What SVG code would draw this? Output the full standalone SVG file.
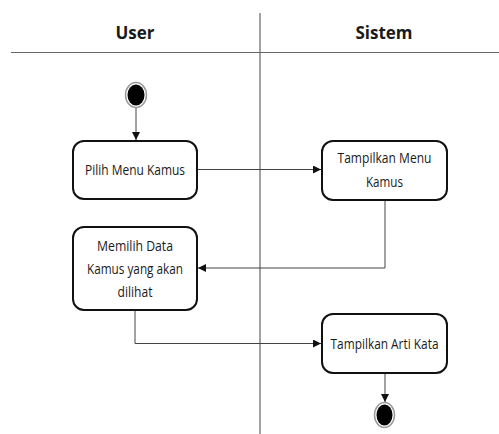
<svg xmlns="http://www.w3.org/2000/svg" width="499" height="434" viewBox="0 0 499 434">
<style>
.lane{stroke:#666;stroke-width:1.2;fill:none}
.box{fill:#fff;stroke:#111;stroke-width:2}
.t{font-family:"Open Sans","Liberation Sans",sans-serif;font-size:14px;fill:#1a1a1a;text-anchor:middle}
.h{font-family:"Open Sans","Liberation Sans",sans-serif;font-size:17px;font-weight:bold;fill:#1a1a1a;text-anchor:middle}
.c{stroke:#444;stroke-width:1;fill:none;marker-end:url(#ah)}
</style>
<defs>
<marker id="ah" viewBox="0 0 10 10" refX="10" refY="5" markerWidth="8" markerHeight="8" markerUnits="userSpaceOnUse" orient="auto">
<path d="M0,0 L10,5 L0,10 z" fill="#111"/>
</marker>
</defs>
<rect width="499" height="434" fill="#fff"/>
<g id="lanes">
<line class="lane" x1="11" y1="52.5" x2="499" y2="52.5"/>
<line class="lane" x1="260" y1="13" x2="260" y2="434"/>
<text class="h" x="135" y="39">User</text>
<text class="h" x="384" y="39">Sistem</text>
</g>
<g id="connectors">
<path class="c" d="M136,107 L136,140"/>
<path class="c" d="M197,169.5 L321,169.5"/>
<path class="c" d="M385,200 L385,268 L198,268"/>
<path class="c" d="M135,310 L135,343.5 L321,343.5"/>
<path class="c" d="M385,373 L385,402"/>
</g>
<g id="start">
<ellipse cx="136" cy="95" rx="10.5" ry="12.5" fill="#fff" stroke="#999" stroke-width="1.5"/>
<ellipse cx="136" cy="95" rx="8.5" ry="10.5" fill="#000"/>
</g>
<g id="pilih">
<rect class="box" x="73" y="141" width="124" height="58" rx="11"/>
<text class="t" x="135" y="175" textLength="100" lengthAdjust="spacingAndGlyphs">Pilih Menu Kamus</text>
</g>
<g id="tampilMenu">
<rect class="box" x="322" y="141" width="125" height="59" rx="11"/>
<text class="t" x="384.5" y="163" textLength="94" lengthAdjust="spacingAndGlyphs">Tampilkan Menu</text>
<text class="t" x="384.5" y="186.5" textLength="37" lengthAdjust="spacingAndGlyphs">Kamus</text>
</g>
<g id="memilih">
<rect class="box" x="73" y="227" width="124" height="83" rx="11"/>
<text class="t" x="135" y="251" textLength="76" lengthAdjust="spacingAndGlyphs">Memilih Data</text>
<text class="t" x="135" y="273.5" textLength="96" lengthAdjust="spacingAndGlyphs">Kamus yang akan</text>
<text class="t" x="135" y="296.5" textLength="35" lengthAdjust="spacingAndGlyphs">dilihat</text>
</g>
<g id="arti">
<rect class="box" x="322" y="314" width="125" height="59" rx="11"/>
<text class="t" x="384.5" y="348.5" textLength="108" lengthAdjust="spacingAndGlyphs">Tampilkan Arti Kata</text>
</g>
<g id="end">
<ellipse cx="384.5" cy="415" rx="10" ry="12.5" fill="#fff" stroke="#999" stroke-width="1.5"/>
<ellipse cx="384.5" cy="415" rx="8" ry="10.5" fill="#000"/>
</g>
</svg>
